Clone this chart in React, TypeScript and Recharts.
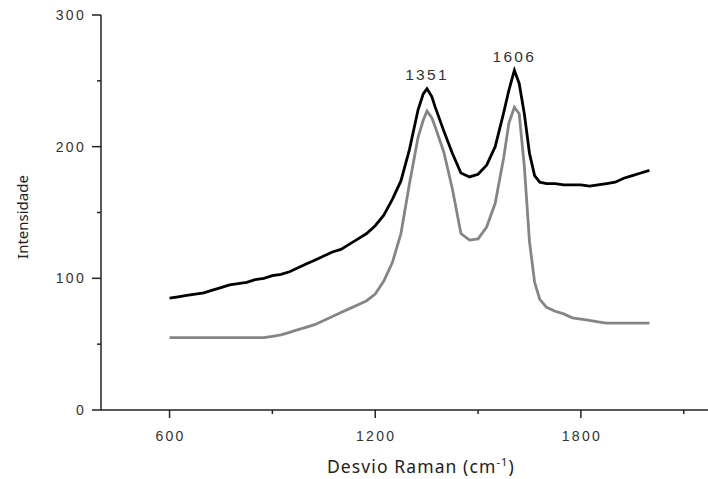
import { LineChart, Line, XAxis, YAxis, ReferenceDot } from "recharts";

// Raman shift (cm-1) sample positions
const shift = [
  600, 625, 650, 675, 700, 725, 750, 775, 800, 825, 850, 875, 900, 925, 950, 975,
  1000, 1025, 1050, 1075, 1100, 1125, 1150, 1175, 1200, 1225, 1250, 1275, 1300, 1325,
  1340, 1351, 1365, 1375, 1400, 1425, 1450, 1475, 1500, 1525, 1550, 1575, 1590, 1606,
  1620, 1635, 1650, 1665, 1680, 1700, 1725, 1750, 1775, 1800, 1825, 1850, 1875, 1900,
  1925, 1950, 1975, 2000,
];

// upper (black) spectrum
const upper = [
  85, 86, 87, 88, 89, 91, 93, 95, 96, 97, 99, 100, 102, 103, 105, 108,
  111, 114, 117, 120, 122, 126, 130, 134, 140, 148, 160, 174, 198, 228,
  240, 244, 238, 230, 212, 195, 180, 177, 179, 186, 200, 226, 243, 258,
  248, 225, 195, 178, 173, 172, 172, 171, 171, 171, 170, 171, 172, 173,
  176, 178, 180, 182,
];

// lower (grey) spectrum
const lower = [
  55, 55, 55, 55, 55, 55, 55, 55, 55, 55, 55, 55, 56, 57, 59, 61,
  63, 65, 68, 71, 74, 77, 80, 83, 88, 98, 112, 134, 172, 207,
  220, 227, 222, 215, 196, 168, 134, 129, 130, 139, 157, 192, 218, 230,
  225, 185, 128, 97, 84, 78, 75, 73, 70, 69, 68, 67, 66, 66,
  66, 66, 66, 66,
];

const xTicks = [600, 900, 1200, 1500, 1800, 2100];
const xLabelled = [600, 1200, 1800];
const yTicks = [0, 50, 100, 150, 200, 250, 300];
const yLabelled = [0, 100, 200, 300];
const peaks = [
  { x: 1351, y: 244, text: "1351" },
  { x: 1606, y: 258, text: "1606" },
];

const data = shift.map((s, i) => ({ s, upper: upper[i], lower: lower[i] }));

const tickFont = { fontFamily: "'Liberation Sans', Arial, sans-serif", fontSize: 14, letterSpacing: 2.3, fill: "#333" };

const XTick = ({ x, y, payload }: any) => {
  const major = xLabelled.includes(payload.value);
  return (
    <g>
      <line x1={x} x2={x} y1={y} y2={y + (major ? 8 : 4)} stroke="#222" strokeWidth={1.5} />
      {major && (
        <text x={x + 1} y={y + 26} textAnchor="middle" dominantBaseline="central" {...tickFont}>
          {payload.value}
        </text>
      )}
    </g>
  );
};

const YTick = ({ x, y, payload }: any) => {
  const major = yLabelled.includes(payload.value);
  return (
    <g>
      <line x1={x - (major ? 9 : 4)} x2={x} y1={y} y2={y} stroke="#222" strokeWidth={1.5} />
      {major && (
        <text x={x - 15} y={y} textAnchor="end" dominantBaseline="central" {...tickFont}>
          {payload.value}
        </text>
      )}
    </g>
  );
};

const PeakLabel = ({ viewBox, text }: any) => (
  <text
    x={viewBox.x + viewBox.width / 2}
    y={viewBox.y - 14}
    textAnchor="middle"
    dominantBaseline="central"
    fontFamily="'Liberation Sans', Arial, sans-serif"
    fontSize={15.5}
    letterSpacing={2.3}
    fill="#333"
  >
    {text}
  </text>
);

export default function App() {
  return (
    <div style={{ position: "fixed", left: 0, top: 0, width: 708, height: 479, overflow: "hidden", background: "#fff" }}>
      <LineChart width={720} height={479} data={data} margin={{ top: 15, right: 2, bottom: 0, left: 0 }}>
        <XAxis
          dataKey="s"
          type="number"
          domain={[400, 2200]}
          ticks={xTicks}
          tick={<XTick />}
          tickSize={0}
          tickMargin={0}
          tickLine={false}
          height={69}
          axisLine={{ stroke: "#222", strokeWidth: 1.5 }}
          allowDataOverflow
        />
        <YAxis
          type="number"
          domain={[0, 300]}
          ticks={yTicks}
          tick={<YTick />}
          tickSize={0}
          tickMargin={0}
          tickLine={false}
          width={101}
          axisLine={{ stroke: "#222", strokeWidth: 1.5 }}
          allowDataOverflow
        />
        <Line type="linear" dataKey="lower" stroke="#858585" strokeWidth={2.8} dot={false} isAnimationActive={false} />
        <Line type="linear" dataKey="upper" stroke="#000" strokeWidth={2.8} dot={false} isAnimationActive={false} />
        {peaks.map((p) => (
          <ReferenceDot key={p.text} x={p.x} y={p.y} r={0} fill="none" stroke="none" label={<PeakLabel text={p.text} />} />
        ))}
      </LineChart>
      <svg width={708} height={479} style={{ position: "absolute", left: 0, top: 0, pointerEvents: "none" }}>
        <text
          transform="translate(22,217) rotate(-90)"
          textAnchor="middle"
          dominantBaseline="central"
          fontFamily="'Noto Sans', 'Open Sans', sans-serif"
          fontSize={15}
          fill="#222"
        >
          Intensidade
        </text>
        <text x={327} y={473} fontFamily="'Noto Sans', 'Open Sans', sans-serif" fontSize={17.5} letterSpacing={1.1} fill="#222">
          Desvio Raman (cm
          <tspan fontSize={11} dy={-7}>-1</tspan>
          <tspan dy={7}>)</tspan>
        </text>
      </svg>
    </div>
  );
}
